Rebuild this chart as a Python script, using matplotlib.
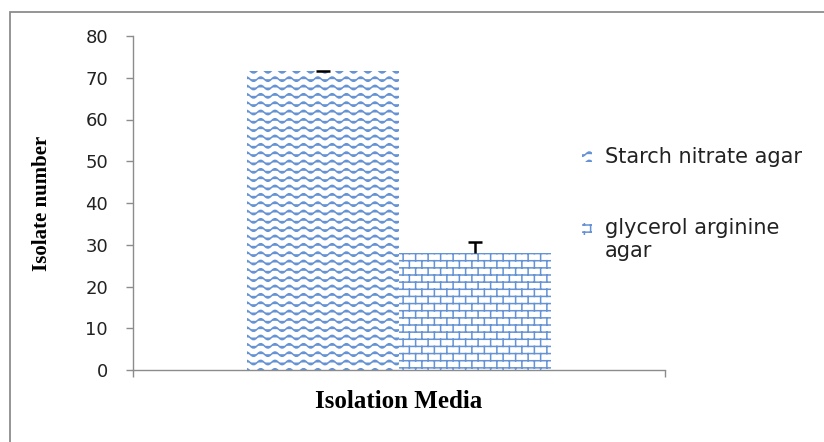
import numpy as np
import matplotlib
matplotlib.use("Agg")
import matplotlib.pyplot as plt
from matplotlib import hatch as mhatch
from matplotlib.path import Path
from matplotlib.patches import Rectangle
from matplotlib.legend_handler import HandlerPatch

# data
media = ["Starch nitrate agar", "glycerol arginine\nagar"]
isolates = [71.5, 28]
err_up = [0.2, 2.7]
yticks = [0, 10, 20, 30, 40, 50, 60, 70, 80]

blue = "#6693d4"
grey = "#8c8c8c"


# custom hatch textures: 'o' -> waves, '+' -> bricks
class WaveHatch(mhatch.HatchPatternBase):
    def __init__(self, hatch, density):
        self.rows = 12 * hatch.count("o")
        self.cols = 7
        self.seg = 10
        self.npts = self.cols * self.seg + 1
        self.num_vertices = self.rows * self.npts

    def set_vertices_and_codes(self, vertices, codes):
        xs = np.linspace(0, 1, self.npts)
        for r in range(self.rows):
            y0 = (r + 0.5) / self.rows
            sl = slice(r * self.npts, (r + 1) * self.npts)
            vertices[sl, 0] = xs
            vertices[sl, 1] = y0 + 0.022 * np.sin(2 * np.pi * self.cols * xs)
            codes[sl] = Path.LINETO
            codes[r * self.npts] = Path.MOVETO


class BrickHatch(mhatch.HatchPatternBase):
    def __init__(self, hatch, density):
        self.rows = 14 * hatch.count("+")
        self.cols = 8
        if self.rows:
            self.num_vertices = self.rows * 2 + (self.rows + 1) * self.cols * 2
        else:
            self.num_vertices = 0

    def set_vertices_and_codes(self, vertices, codes):
        i = 0
        h = 1.0 / self.rows
        for r in range(self.rows):
            y = (r + 0.5) * h
            vertices[i] = (0, y)
            vertices[i + 1] = (1, y)
            codes[i] = Path.MOVETO
            codes[i + 1] = Path.LINETO
            i += 2
        for r in range(self.rows + 1):
            off = 1 / 32 + (r % 2) * 0.5 / self.cols
            for c in range(self.cols):
                x = c / self.cols + off
                vertices[i] = (x, (r - 0.5) * h)
                vertices[i + 1] = (x, (r + 0.5) * h)
                codes[i] = Path.MOVETO
                codes[i + 1] = Path.LINETO
                i += 2


mhatch._hatch_types = [WaveHatch, BrickHatch]

plt.rcParams["hatch.linewidth"] = 1.1
plt.rcParams["hatch.color"] = blue

fig = plt.figure(figsize=(8.24, 4.42), dpi=100)
ax = fig.add_axes([133 / 824, 1 - 370 / 442, 532 / 824, 334 / 442])

# outer frame (left and top edges visible)
fig.patches.append(Rectangle((10 / 824, -0.1), 1.2, 1 - 12 / 442 + 0.1,
                             transform=fig.transFigure, fill=False,
                             edgecolor=grey, linewidth=1.3))

width = 0.286
pos = (np.arange(len(media)) - 0.5) * width
hatches = ["o", "+"]
bars = []
for i in range(len(media)):
    b = ax.bar(pos[i], isolates[i], width, color="white", edgecolor=blue,
               linewidth=0, hatch=hatches[i], label=media[i])
    bars.append(b[0])

eb = ax.errorbar(pos, isolates, yerr=[np.zeros(len(media)), err_up], fmt="none",
                 ecolor="black", elinewidth=1.8, capsize=4.7, capthick=1.8)
eb[1][0].set_visible(False)  # only the upper cap, like a "T"

ax.set_xlim(-0.5, 0.5)
ax.set_ylim(0, 80)
ax.set_yticks(yticks)
ax.set_xticks([-0.5, 0.5])
ax.set_xticklabels([])
for s in ["top", "right"]:
    ax.spines[s].set_visible(False)
for s in ["left", "bottom"]:
    ax.spines[s].set_color(grey)
    ax.spines[s].set_linewidth(1)
ax.tick_params(axis="both", direction="out", length=5, color=grey, width=1)
ax.tick_params(axis="y", pad=13, labelsize=13, labelcolor="#222222")
for t in ax.get_yticklabels():
    t.set_family("DejaVu Sans")

ax.set_ylabel("Isolate number", family="Liberation Serif", fontweight="bold",
              fontsize=15, labelpad=24)
ax.set_xlabel("Isolation Media", family="Liberation Serif", fontweight="bold",
              fontsize=18, labelpad=6)


def shifted_patch(legend, orig_handle, xdescent, ydescent, width, height, fontsize):
    return Rectangle((-xdescent, -ydescent + 0.55 * fontsize), width, height)


leg = ax.legend(bars, media, loc="upper left",
                bbox_to_anchor=(582 / 824, 1 - 147 / 442),
                bbox_transform=fig.transFigure, frameon=False,
                prop={"family": "DejaVu Sans", "size": 15},
                handlelength=0.5, handleheight=0.5, handletextpad=0.6,
                labelspacing=2.45, borderpad=0, borderaxespad=0,
                handler_map={bars[1]: HandlerPatch(patch_func=shifted_patch)})
for t in leg.get_texts():
    t.set_color("#222222")

fig.savefig("out.png", dpi=100)
